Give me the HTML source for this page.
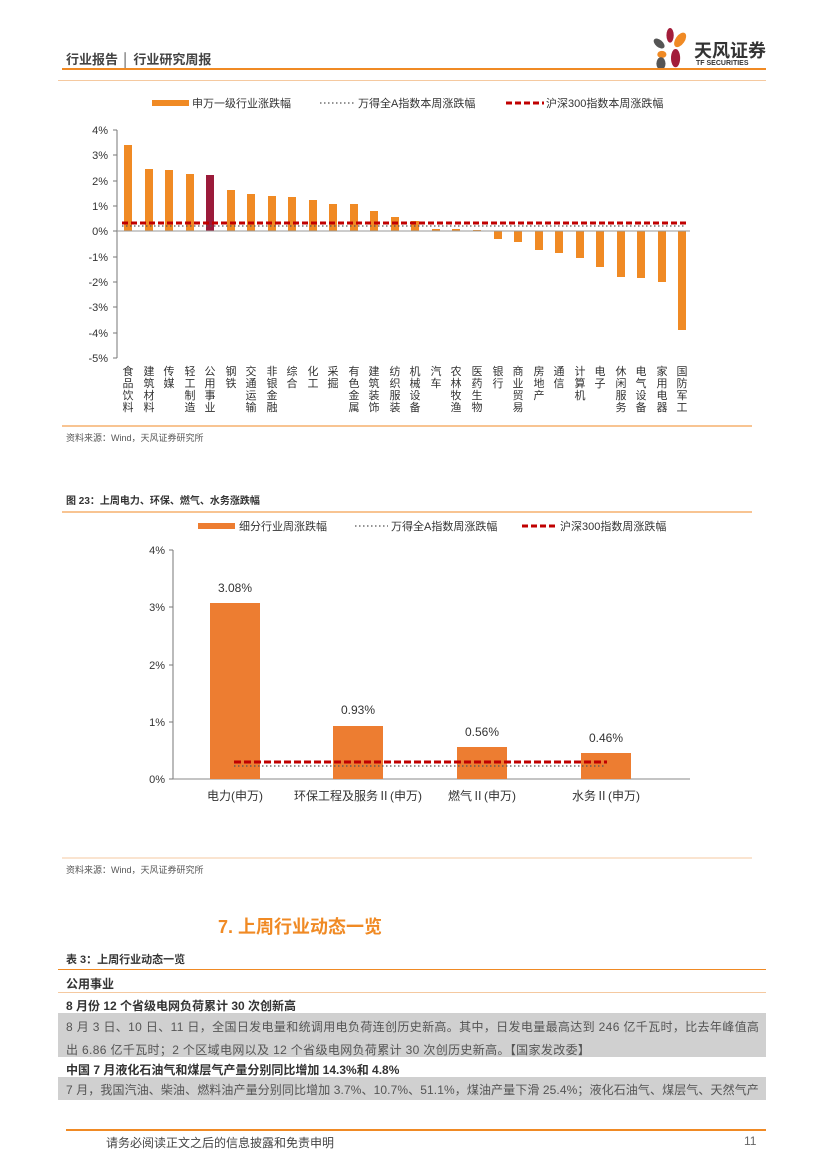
<!DOCTYPE html>
<html><head><meta charset="utf-8"><style>
body{margin:0;background:#fff;}
.p{position:relative;width:827px;height:1169px;overflow:hidden;font-family:"Liberation Sans","Noto Sans CJK SC",sans-serif;color:#333;}
.a{position:absolute;white-space:nowrap;}
</style></head><body><div class="p">
<div class="a" style="left:66px;top:49px;font-size:13px;font-weight:bold;color:#444;">行业报告 │ 行业研究周报</div>
<svg class="a" style="left:650px;top:26px" width="42" height="46" viewBox="0 0 46 48">
<ellipse cx="22" cy="9" rx="4" ry="8" fill="#a31d3a"/>
<ellipse cx="33" cy="14" rx="5" ry="9" fill="#f08a24" transform="rotate(35 33 14)"/>
<ellipse cx="10" cy="18" rx="4" ry="7" fill="#555" transform="rotate(-50 10 18)"/>
<ellipse cx="13" cy="30" rx="5" ry="4" fill="#f08a24"/>
<ellipse cx="28" cy="34" rx="5" ry="10" fill="#a31d3a"/>
<ellipse cx="12" cy="40" rx="5" ry="7" fill="#555"/>
</svg>
<div class="a" style="left:694px;top:37px;font-size:18px;font-weight:bold;color:#333;">天风证券</div>
<div class="a" style="left:696px;top:60px;font-size:7px;font-weight:bold;color:#333;">TF SECURITIES</div>
<div class="a" style="left:62px;top:68px;width:704px;height:2px;background:#f08a24"></div>
<div class="a" style="left:58px;top:80px;width:708px;height:1px;background:#f5c9a0"></div>

<svg class="a" style="left:0;top:0" width="827" height="1169" font-family="Liberation Sans, Noto Sans CJK SC, sans-serif">
<rect x="152" y="100" width="37" height="6" fill="#f08a24"/>
<text x="192" y="107" font-size="11" fill="#333">申万一级行业涨跌幅</text>
<line x1="320" y1="103" x2="355" y2="103" stroke="#555" stroke-dasharray="1.5 2.5" stroke-width="1.2"/>
<text x="358" y="107" font-size="11" fill="#333">万得全A指数本周涨跌幅</text>
<line x1="506" y1="103" x2="544" y2="103" stroke="#c00000" stroke-dasharray="6 3" stroke-width="3"/>
<text x="546" y="107" font-size="11" fill="#333">沪深300指数本周涨跌幅</text>
<line x1="117" y1="130" x2="117" y2="358" stroke="#777"/>
<g font-size="11" fill="#333" text-anchor="end">
<text x="108" y="134">4%</text><text x="108" y="159">3%</text><text x="108" y="185">2%</text><text x="108" y="210">1%</text><text x="108" y="235">0%</text><text x="108" y="261">-1%</text><text x="108" y="286">-2%</text><text x="108" y="311">-3%</text><text x="108" y="337">-4%</text><text x="108" y="362">-5%</text>
</g>
<g stroke="#777"><line x1="113" y1="130" x2="117" y2="130"/><line x1="113" y1="155" x2="117" y2="155"/><line x1="113" y1="181" x2="117" y2="181"/><line x1="113" y1="206" x2="117" y2="206"/><line x1="113" y1="231" x2="117" y2="231"/><line x1="113" y1="257" x2="117" y2="257"/><line x1="113" y1="282" x2="117" y2="282"/><line x1="113" y1="307" x2="117" y2="307"/><line x1="113" y1="333" x2="117" y2="333"/><line x1="113" y1="358" x2="117" y2="358"/></g>
<g fill="#f08a24">
<rect x="124" y="145" width="8" height="86"/>
<rect x="145" y="169" width="8" height="62"/>
<rect x="165" y="170" width="8" height="61"/>
<rect x="186" y="174" width="8" height="57"/>
<rect x="206" y="175" width="8" height="56" fill="#9b1b3a"/>
<rect x="227" y="190" width="8" height="41"/>
<rect x="247" y="194" width="8" height="37"/>
<rect x="268" y="196" width="8" height="35"/>
<rect x="288" y="197" width="8" height="34"/>
<rect x="309" y="200" width="8" height="31"/>
<rect x="329" y="204" width="8" height="27"/>
<rect x="350" y="204" width="8" height="27"/>
<rect x="370" y="211" width="8" height="20"/>
<rect x="391" y="217" width="8" height="14"/>
<rect x="411" y="221" width="8" height="10"/>
<rect x="432" y="229" width="8" height="2"/>
<rect x="452" y="229" width="8" height="2"/>
<rect x="473" y="230" width="8" height="1"/>
<rect x="494" y="231" width="8" height="8"/>
<rect x="514" y="231" width="8" height="11"/>
<rect x="535" y="231" width="8" height="19"/>
<rect x="555" y="231" width="8" height="22"/>
<rect x="576" y="231" width="8" height="27"/>
<rect x="596" y="231" width="8" height="36"/>
<rect x="617" y="231" width="8" height="46"/>
<rect x="637" y="231" width="8" height="47"/>
<rect x="658" y="231" width="8" height="51"/>
<rect x="678" y="231" width="8" height="99"/>
</g>
<line x1="117" y1="231" x2="690" y2="231" stroke="#999"/>
<line x1="122" y1="226" x2="686" y2="226" stroke="#555" stroke-dasharray="1.5 2.5" stroke-width="1.2"/>
<line x1="122" y1="223" x2="686" y2="223" stroke="#c00000" stroke-dasharray="6 3" stroke-width="3"/>
<g font-size="11" fill="#333" text-anchor="middle">
<text x="128" y="375">食<tspan x="128" dy="12">品</tspan><tspan x="128" dy="12">饮</tspan><tspan x="128" dy="12">料</tspan></text>
<text x="149" y="375">建<tspan x="149" dy="12">筑</tspan><tspan x="149" dy="12">材</tspan><tspan x="149" dy="12">料</tspan></text>
<text x="169" y="375">传<tspan x="169" dy="12">媒</tspan></text>
<text x="190" y="375">轻<tspan x="190" dy="12">工</tspan><tspan x="190" dy="12">制</tspan><tspan x="190" dy="12">造</tspan></text>
<text x="210" y="375">公<tspan x="210" dy="12">用</tspan><tspan x="210" dy="12">事</tspan><tspan x="210" dy="12">业</tspan></text>
<text x="231" y="375">钢<tspan x="231" dy="12">铁</tspan></text>
<text x="251" y="375">交<tspan x="251" dy="12">通</tspan><tspan x="251" dy="12">运</tspan><tspan x="251" dy="12">输</tspan></text>
<text x="272" y="375">非<tspan x="272" dy="12">银</tspan><tspan x="272" dy="12">金</tspan><tspan x="272" dy="12">融</tspan></text>
<text x="292" y="375">综<tspan x="292" dy="12">合</tspan></text>
<text x="313" y="375">化<tspan x="313" dy="12">工</tspan></text>
<text x="333" y="375">采<tspan x="333" dy="12">掘</tspan></text>
<text x="354" y="375">有<tspan x="354" dy="12">色</tspan><tspan x="354" dy="12">金</tspan><tspan x="354" dy="12">属</tspan></text>
<text x="374" y="375">建<tspan x="374" dy="12">筑</tspan><tspan x="374" dy="12">装</tspan><tspan x="374" dy="12">饰</tspan></text>
<text x="395" y="375">纺<tspan x="395" dy="12">织</tspan><tspan x="395" dy="12">服</tspan><tspan x="395" dy="12">装</tspan></text>
<text x="415" y="375">机<tspan x="415" dy="12">械</tspan><tspan x="415" dy="12">设</tspan><tspan x="415" dy="12">备</tspan></text>
<text x="436" y="375">汽<tspan x="436" dy="12">车</tspan></text>
<text x="456" y="375">农<tspan x="456" dy="12">林</tspan><tspan x="456" dy="12">牧</tspan><tspan x="456" dy="12">渔</tspan></text>
<text x="477" y="375">医<tspan x="477" dy="12">药</tspan><tspan x="477" dy="12">生</tspan><tspan x="477" dy="12">物</tspan></text>
<text x="498" y="375">银<tspan x="498" dy="12">行</tspan></text>
<text x="518" y="375">商<tspan x="518" dy="12">业</tspan><tspan x="518" dy="12">贸</tspan><tspan x="518" dy="12">易</tspan></text>
<text x="539" y="375">房<tspan x="539" dy="12">地</tspan><tspan x="539" dy="12">产</tspan></text>
<text x="559" y="375">通<tspan x="559" dy="12">信</tspan></text>
<text x="580" y="375">计<tspan x="580" dy="12">算</tspan><tspan x="580" dy="12">机</tspan></text>
<text x="600" y="375">电<tspan x="600" dy="12">子</tspan></text>
<text x="621" y="375">休<tspan x="621" dy="12">闲</tspan><tspan x="621" dy="12">服</tspan><tspan x="621" dy="12">务</tspan></text>
<text x="641" y="375">电<tspan x="641" dy="12">气</tspan><tspan x="641" dy="12">设</tspan><tspan x="641" dy="12">备</tspan></text>
<text x="662" y="375">家<tspan x="662" dy="12">用</tspan><tspan x="662" dy="12">电</tspan><tspan x="662" dy="12">器</tspan></text>
<text x="682" y="375">国<tspan x="682" dy="12">防</tspan><tspan x="682" dy="12">军</tspan><tspan x="682" dy="12">工</tspan></text>
</g>
<line x1="62" y1="426" x2="752" y2="426" stroke="#f08a24"/>
<text x="66" y="441" font-size="9" fill="#555">资料来源：Wind，天风证券研究所</text>

<text x="66" y="504" font-size="10" font-weight="bold" fill="#333">图 23：上周电力、环保、燃气、水务涨跌幅</text>
<line x1="62" y1="512" x2="752" y2="512" stroke="#f08a24"/>
<rect x="198" y="523" width="37" height="6" fill="#ed7d31"/>
<text x="239" y="530" font-size="11" fill="#333">细分行业周涨跌幅</text>
<line x1="355" y1="526" x2="388" y2="526" stroke="#555" stroke-dasharray="1.5 2.5" stroke-width="1.2"/>
<text x="391" y="530" font-size="11" fill="#333">万得全A指数周涨跌幅</text>
<line x1="522" y1="526" x2="558" y2="526" stroke="#c00000" stroke-dasharray="6 3" stroke-width="3"/>
<text x="560" y="530" font-size="11" fill="#333">沪深300指数周涨跌幅</text>
<line x1="173" y1="550" x2="173" y2="779" stroke="#777"/>
<line x1="173" y1="779" x2="690" y2="779" stroke="#888"/>
<g stroke="#777"><line x1="169" y1="550" x2="173" y2="550"/><line x1="169" y1="607" x2="173" y2="607"/><line x1="169" y1="665" x2="173" y2="665"/><line x1="169" y1="722" x2="173" y2="722"/><line x1="169" y1="779" x2="173" y2="779"/></g>
<g font-size="11" fill="#333" text-anchor="end">
<text x="165" y="554">4%</text><text x="165" y="611">3%</text><text x="165" y="669">2%</text><text x="165" y="726">1%</text><text x="165" y="783">0%</text>
</g>
<g fill="#ed7d31">
<rect x="210" y="603" width="50" height="176"/>
<rect x="333" y="726" width="50" height="53"/>
<rect x="457" y="747" width="50" height="32"/>
<rect x="581" y="753" width="50" height="26"/>
</g>
<line x1="234" y1="766" x2="605" y2="766" stroke="#555" stroke-dasharray="1.5 2.5" stroke-width="1.2"/>
<line x1="234" y1="762" x2="607" y2="762" stroke="#c00000" stroke-dasharray="7 3" stroke-width="3"/>
<g font-size="12" fill="#333" text-anchor="middle">
<text x="235" y="592">3.08%</text><text x="358" y="714">0.93%</text><text x="482" y="736">0.56%</text><text x="606" y="742">0.46%</text>
<text x="235" y="800">电力(申万)</text><text x="358" y="800">环保工程及服务Ⅱ(申万)</text><text x="482" y="800">燃气Ⅱ(申万)</text><text x="606" y="800">水务Ⅱ(申万)</text>
</g>
<line x1="62" y1="858" x2="752" y2="858" stroke="#f5c9a0"/>
<text x="66" y="873" font-size="9" fill="#555">资料来源：Wind，天风证券研究所</text>
</svg>

<div class="a" style="left:218px;top:913px;font-size:18px;font-weight:bold;color:#f08a24;">7. 上周行业动态一览</div>
<div class="a" style="left:66px;top:951px;font-size:11px;font-weight:bold;color:#333;">表 3：上周行业动态一览</div>
<div class="a" style="left:58px;top:969px;width:708px;height:1px;background:#f08a24"></div>
<div class="a" style="left:66px;top:975px;font-size:12px;font-weight:bold;">公用事业</div>
<div class="a" style="left:58px;top:992px;width:708px;height:1px;background:#f5c9a0"></div>
<div class="a" style="left:66px;top:997px;font-size:12px;font-weight:bold;">8 月份 12 个省级电网负荷累计 30 次创新高</div>
<div class="a" style="left:58px;top:1013px;width:708px;height:44px;background:#d0d0d0"></div>
<div class="a" style="left:66px;top:1016px;font-size:12px;color:#555;line-height:23px;letter-spacing:0.35px;">8 月 3 日、10 日、11 日，全国日发电量和统调用电负荷连创历史新高。其中，日发电量最高达到 246 亿千瓦时，比去年峰值高<br>出 6.86 亿千瓦时；2 个区域电网以及 12 个省级电网负荷累计 30 次创历史新高。【国家发改委】</div>
<div class="a" style="left:66px;top:1061px;font-size:12px;font-weight:bold;">中国 7 月液化石油气和煤层气产量分别同比增加 14.3%和 4.8%</div>
<div class="a" style="left:58px;top:1077px;width:708px;height:23px;background:#d0d0d0"></div>
<div class="a" style="left:66px;top:1081px;font-size:12px;color:#555;letter-spacing:0.1px;">7 月，我国汽油、柴油、燃料油产量分别同比增加 3.7%、10.7%、51.1%，煤油产量下滑 25.4%；液化石油气、煤层气、天然气产</div>
<div class="a" style="left:66px;top:1129px;width:700px;height:2px;background:#f08a24"></div>
<div class="a" style="left:106px;top:1134px;font-size:12px;color:#444;">请务必阅读正文之后的信息披露和免责申明</div>
<div class="a" style="left:744px;top:1134px;font-size:12px;color:#666;">11</div>
</div></body></html>
